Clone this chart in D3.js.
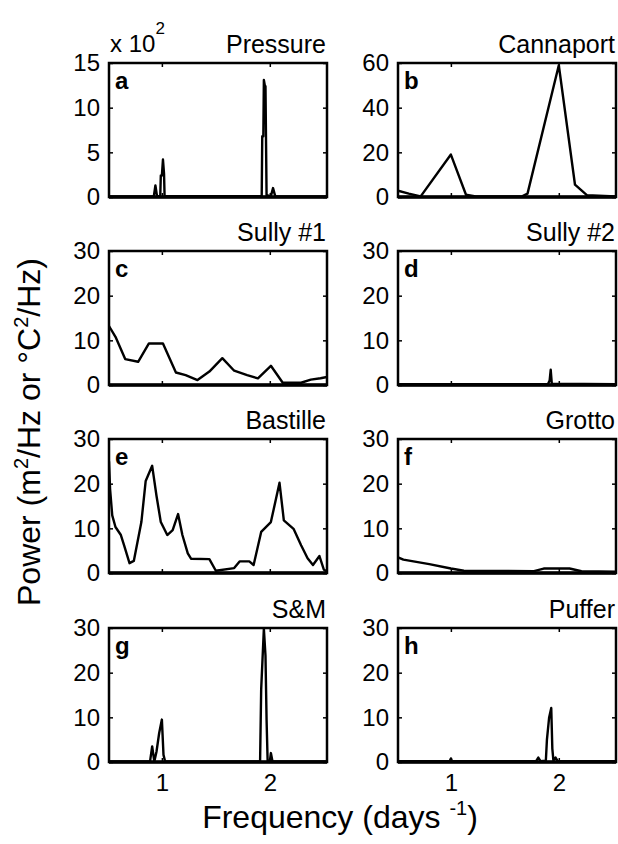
<!DOCTYPE html>
<html>
<head>
<meta charset="utf-8">
<script src="https://cdn.jsdelivr.net/npm/d3@7"></script>
<style>
  body { margin: 0; background: #fff; }
  text { font-family: "Liberation Sans", Arial, Helvetica, sans-serif; fill: #000; }
</style>
</head>
<body>
<svg id="chart"></svg>
<script>
const width = 618, height = 844

// spectra as [frequency (1/day), power] pairs
const pressure = [[0.51,0.05],[0.925,0.05],[0.94,1.3],[0.955,0.1],[0.985,0.1],[0.99,2.4],[1.0,2.4],[1.01,4.2],[1.02,2.6],[1.025,0.1],
    [1.925,0.1],[1.93,6.8],[1.94,6.8],[1.945,13.1],[1.955,12.4],[1.96,12.4],[1.97,0.2],[2.01,0.1],[2.03,1.0],[2.05,0.1],[2.53,0.05]]
const cannaport = [[0.51,2.8],[0.61,1.5],[0.72,0.3],[1.0,19],[1.14,1],[1.23,0.3],[1.66,0.3],[1.71,1.5],[2.0,59],[2.15,5.5],[2.26,0.8],[2.53,0.3]]
const sully1 = [[0.51,13.2],[0.57,10.8],[0.66,5.8],[0.78,5.2],[0.88,9.3],[1.01,9.3],[1.13,2.8],[1.22,2.2],[1.33,1.1],[1.44,3.0],
    [1.56,6.0],[1.67,3.2],[1.79,2.2],[1.89,1.5],[2.01,4.3],[2.12,0.5],[2.29,0.5],[2.38,1.2],[2.47,1.5],[2.53,1.8]]
const sully2 = [[0.51,0.2],[1.90,0.2],[1.915,1.0],[1.925,3.4],[1.935,0.3],[2.53,0.2]]
const bastille = [[0.51,25],[0.52,18.8],[0.54,12.9],[0.57,10.3],[0.62,8.5],[0.65,6.2],[0.70,2.2],[0.74,2.7],[0.81,11.4],[0.85,20.6],
    [0.91,24],[0.95,17.3],[0.99,11.4],[1.05,8.5],[1.10,9.6],[1.15,13.2],[1.19,8.5],[1.24,4.4],[1.27,3.2],[1.44,3.1],[1.50,0.5],
    [1.67,1.1],[1.72,2.6],[1.81,2.6],[1.85,1.8],[1.92,9.2],[2.01,11.4],[2.09,20.2],[2.13,11.8],[2.22,9.9],[2.29,6.2],[2.35,3.3],
    [2.40,1.8],[2.46,3.8],[2.50,0.8],[2.53,0.3]]
const grotto = [[0.51,3.5],[0.56,3.0],[0.8,2.0],[1.0,1.0],[1.12,0.5],[1.77,0.4],[1.86,1.0],[2.1,1.0],[2.21,0.4],[2.53,0.3]]
const sam = [[0.51,0.1],[0.89,0.1],[0.91,3.5],[0.93,0.1],[0.95,2.3],[0.975,6.5],[1.0,9.5],[1.015,1.6],[1.03,0.1],[1.91,0.1],
    [1.92,16.2],[1.945,29.8],[1.96,23.8],[1.97,9.5],[1.98,0.1],[2.0,0.1],[2.01,2.0],[2.025,0.1],[2.53,0.1]]
const puffer = [[0.51,0.2],[0.99,0.2],[1.0,0.8],[1.01,0.2],[1.79,0.2],[1.81,1.0],[1.83,0.2],[1.88,0.3],[1.89,5],[1.91,9.9],
    [1.93,12.1],[1.94,3],[1.95,0.3],[1.97,1.0],[1.99,0.2],[2.53,0.2]]

const titles = ["Pressure", "Cannaport", "Sully #1", "Sully #2", "Bastille", "Grotto", "S&M", "Puffer"]
const letters = ["a", "b", "c", "d", "e", "f", "g", "h"]
const series = [pressure, cannaport, sully1, sully2, bastille, grotto, sam, puffer]
const yTicksA = [0, 5, 10, 15]
const yTicksB = [0, 20, 40, 60]
const yTicks = [0, 10, 20, 30]
const xTicks = [1, 2]
const xDomain = [0.51, 2.53]

const svg = d3.select("#chart")
    .attr("width", width)
    .attr("height", height)

const colLeft = [109, 398]
const rowTop = [63, 251, 439, 628]
const pw = 218, ph = 134

series.forEach((data, i) => {
    let col = i % 2, row = Math.floor(i / 2)
    let ticks = i == 0 ? yTicksA : (i == 1 ? yTicksB : yTicks)
    let ymax = ticks[ticks.length - 1]

    let x = d3.scaleLinear().domain(xDomain).range([0, pw])
    let y = d3.scaleLinear().domain([0, ymax]).range([ph, 0])

    let g = svg.append("g")
        .attr("transform", `translate(${colLeft[col]},${rowTop[row]})`)

    g.append("clipPath").attr("id", "clip" + i)
        .append("rect").attr("width", pw).attr("height", ph)

    g.append("path")
        .datum(data)
        .attr("clip-path", `url(#clip${i})`)
        .attr("fill", "none")
        .attr("stroke", "#000")
        .attr("stroke-width", 2.4)
        .attr("stroke-linejoin", "round")
        .attr("d", d3.line().x(d => x(d[0])).y(d => y(d[1])))

    // axes, ticks pointing inward
    let left = g.append("g")
        .call(d3.axisLeft(y).tickValues(ticks).tickSize(-4).tickPadding(9))
    left.selectAll("text").style("font-size", "24px")

    g.append("g").attr("transform", `translate(${pw},0)`)
        .call(d3.axisRight(y).tickValues(ticks).tickSize(-4).tickFormat(""))

    let bottom = g.append("g").attr("transform", `translate(0,${ph})`)
        .call(d3.axisBottom(x).tickValues(xTicks).tickSize(-4).tickPadding(12)
            .tickFormat(row == 3 ? d3.format("d") : ""))
    bottom.selectAll("text").style("font-size", "24px")

    g.append("g")
        .call(d3.axisTop(x).tickValues(xTicks).tickSize(-4).tickFormat(""))

    g.selectAll(".domain").remove()
    g.selectAll(".tick line").attr("stroke-width", 1.5)

    g.append("rect")
        .attr("width", pw).attr("height", ph)
        .attr("fill", "none")
        .attr("stroke", "#000")
        .attr("stroke-width", 2.5)

    // heavier baseline, as in the scan
    g.append("line")
        .attr("x1", 0).attr("x2", pw)
        .attr("y1", ph).attr("y2", ph)
        .attr("stroke", "#000")
        .attr("stroke-width", 3.5)

    g.append("text")
        .attr("x", 6).attr("y", 26)
        .style("font-size", "24px")
        .style("font-weight", "bold")
        .text(letters[i])

    g.append("text")
        .attr("x", pw - 1).attr("y", -10)
        .attr("text-anchor", "end")
        .style("font-size", "25px")
        .text(titles[i])
})

// exponent for panel a
let expo = svg.append("text")
    .attr("x", 110).attr("y", 52)
    .style("font-size", "24px")
expo.append("tspan").text("x 10")
expo.append("tspan").attr("dy", -18).style("font-size", "17px").text("2")

// y axis label
let ylab = svg.append("text")
    .attr("transform", "translate(40,432) rotate(-90)")
    .attr("text-anchor", "middle")
    .style("font-size", "32px")
ylab.append("tspan").text("Power (m")
ylab.append("tspan").attr("dy", -12).style("font-size", "20px").text("2")
ylab.append("tspan").attr("dy", 12).text("/Hz or \u00B0C")
ylab.append("tspan").attr("dy", -12).style("font-size", "20px").text("2")
ylab.append("tspan").attr("dy", 12).text("/Hz)")

// x axis label
let xlab = svg.append("text")
    .attr("x", 340).attr("y", 828)
    .attr("text-anchor", "middle")
    .style("font-size", "32px")
xlab.append("tspan").text("Frequency (days ")
xlab.append("tspan").attr("dy", -13).style("font-size", "20px").text("-1")
xlab.append("tspan").attr("dy", 13).text(")")
</script>
</body>
</html>
